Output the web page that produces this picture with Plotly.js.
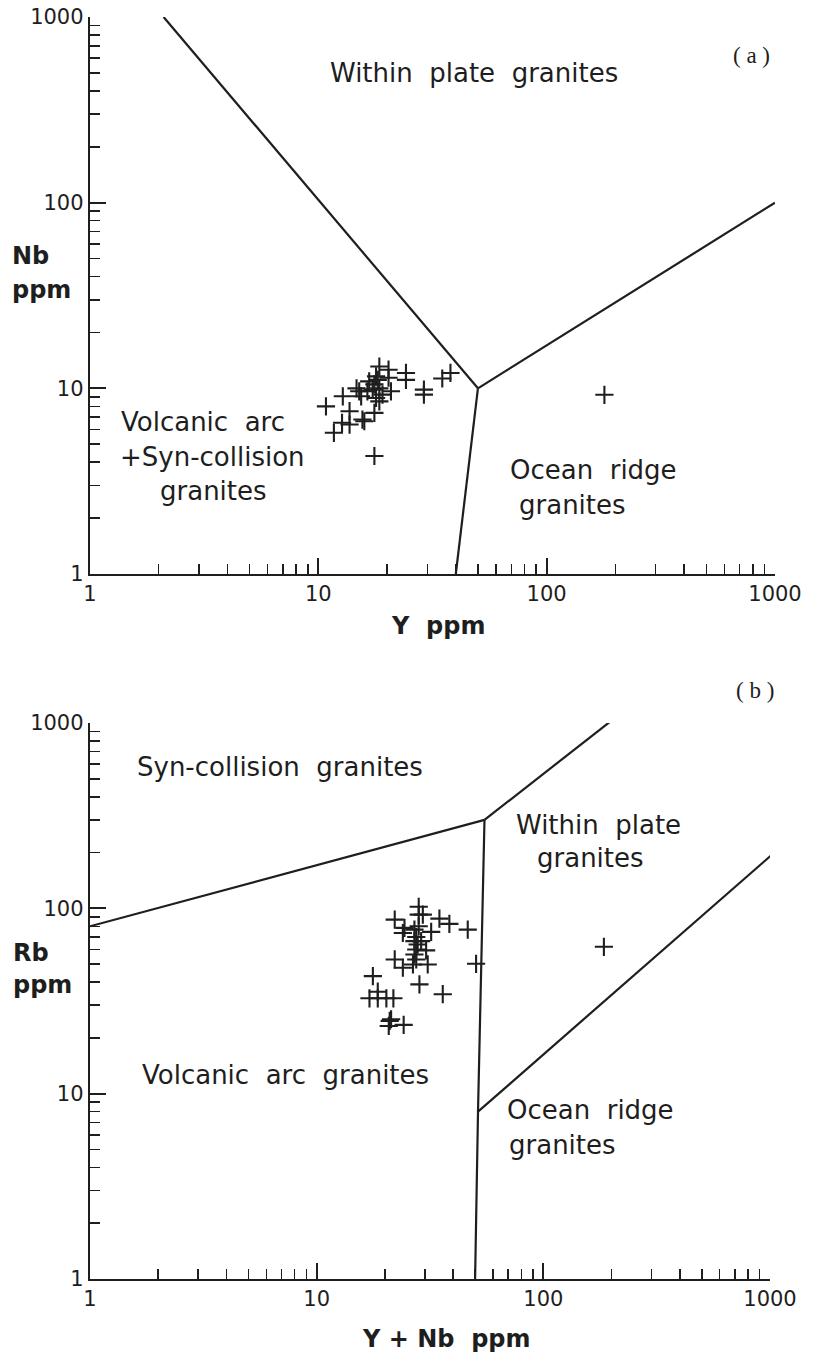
<!DOCTYPE html>
<html>
<head>
<meta charset="utf-8">
<script src="https://cdn.plot.ly/plotly-3.0.1.min.js"></script>
<style>html,body{margin:0;padding:0;background:#fff;}</style>
</head>
<body>
<div id="chart" style="width:814px;height:1355px;"></div>
<script>
// ---------- Panel (a): Nb vs Y ----------
const aY  = [10.8, 12.8, 11.7, 12.7, 13.7, 13.7, 14.7, 15.6, 15.9, 15.4, 15.1, 16.7, 17.6, 18.5, 17.6, 18.5, 17.9, 17.6, 18.5, 17.3, 18.2, 20.3, 20.3, 20.8, 19.1, 24.2, 24.2, 29.0, 29.0, 34.9, 37.9, 16.4, 17.9, 179];
const aNb = [8.0, 9.06, 5.76, 6.52, 6.38, 7.53, 10, 6.79, 6.65, 9.06, 9.64, 10.9, 7.38, 8.51, 4.32, 13.1, 11.6, 10.5, 10, 9.84, 11.1, 12.6, 11.4, 9.64, 9.25, 12.1, 11.1, 9.84, 9.25, 11.3, 12.1, 9.64, 8.87, 9.23];
// boundaries (a)
const aWpgVagX = [2.1, 50],  aWpgVagY = [1000, 10];
const aWpgOrgX = [50, 1000], aWpgOrgY = [10, 100];
const aOrgVagX = [50, 40],   aOrgVagY = [10, 1];

// ---------- Panel (b): Rb vs Y+Nb ----------
const bYNb = [28.2, 28.2, 29.4, 22.1, 34.8, 38.5, 46.4, 24.4, 24.0, 27.0, 32.0, 27.0, 27.9, 28.9, 27.5, 30.4, 27.0, 27.5, 22.1, 24.0, 26.6, 30.9, 50.5, 17.7, 28.4, 36.0, 18.6, 17.1, 18.6, 20.3, 21.8, 21.0, 20.8, 24.2, 21.3, 27.5, 28.2, 185];
const bRb  = [102, 92.5, 92.5, 86.9, 88.0, 82.4, 76.8, 78.4, 73.6, 76.8, 74.6, 66.5, 63.8, 66.5, 60, 59.3, 56.4, 53, 53, 47.8, 49.8, 49.8, 50.2, 43.1, 38.9, 34.4, 35.5, 32.7, 32.7, 32.7, 32.7, 24.7, 23.2, 23.5, 25.2, 70, 80, 62];
// boundaries (b)
const bSynVagX = [1, 55],        bSynVagY = [80, 300];
const bSynWpgX = [55, 400],      bSynWpgY = [300, 2000];
const bVagWpgX = [55, 51.5, 50], bVagWpgY = [300, 8, 1];
const bOrgWpgX = [51.5, 2000],   bOrgWpgY = [8, 400];

// tick labels
const majorTicks = [1, 10, 100, 1000];
const majorText  = ['1', '10', '100', '1000'];
const minorTicks = [];
[1, 10, 100].forEach(d => { for (let k = 2; k <= 9; k++) minorTicks.push(k * d); });

const INK = '#1e1e1e';
const FONT = 'DejaVu Sans, Noto Sans, sans-serif';
const W = 814, H = 1355;
const px = x => x / W, py = y => 1 - y / H;

function lineTrace(x, y, xa, ya) {
  return {x, y, xaxis: xa, yaxis: ya, mode: 'lines', type: 'scatter',
          line: {color: INK, width: 2.2}, hoverinfo: 'skip', showlegend: false};
}
function ptsTrace(x, y, xa, ya) {
  return {x, y, xaxis: xa, yaxis: ya, mode: 'markers', type: 'scatter', showlegend: false,
          marker: {symbol: 'cross-thin', size: 13, color: INK, line: {color: INK, width: 2.1}}};
}

const traces = [
  lineTrace(aWpgVagX, aWpgVagY, 'x', 'y'),
  lineTrace(aWpgOrgX, aWpgOrgY, 'x', 'y'),
  lineTrace(aOrgVagX, aOrgVagY, 'x', 'y'),
  ptsTrace(aY, aNb, 'x', 'y'),
  lineTrace(bSynVagX, bSynVagY, 'x2', 'y2'),
  lineTrace(bSynWpgX, bSynWpgY, 'x2', 'y2'),
  lineTrace(bVagWpgX, bVagWpgY, 'x2', 'y2'),
  lineTrace(bOrgWpgX, bOrgWpgY, 'x2', 'y2'),
  ptsTrace(bYNb, bRb, 'x2', 'y2')
];

function axis(domain, anchor) {
  return {
    type: 'log', range: [0, 3], domain, anchor,
    showline: true, linecolor: INK, linewidth: 2.2, mirror: false,
    ticks: 'inside', ticklen: 16, tickwidth: 1.8, tickcolor: INK,
    tickmode: 'array', tickvals: majorTicks, ticktext: majorText,
    tickfont: {family: FONT, size: 21, color: INK},
    showgrid: false, zeroline: false,
    minor: {tickmode: 'array', tickvals: minorTicks, ticks: 'inside', ticklen: 10,
            tickwidth: 1.5, tickcolor: INK, showgrid: false}
  };
}

const layout = {
  width: W, height: H,
  margin: {l: 0, r: 0, t: 0, b: 0},
  paper_bgcolor: '#fff', plot_bgcolor: '#fff',
  showlegend: false,
  xaxis:  axis([px(90), px(775)], 'y'),
  yaxis:  axis([py(574), py(17)], 'x'),
  xaxis2: axis([px(90), px(770)], 'y2'),
  yaxis2: axis([py(1279), py(723)], 'x2'),
  annotations: []
};

function label(text, x, y, opts = {}) {
  layout.annotations.push(Object.assign({
    text, x: px(x), y: py(y), xref: 'paper', yref: 'paper', showarrow: false,
    xanchor: 'center', yanchor: 'middle',
    font: {family: FONT, size: 26, color: INK}
  }, opts));
}
const boldL = {xanchor: 'left', font: {family: FONT, size: 24, color: INK, weight: 'bold'}};
const serif = {font: {family: 'Liberation Serif, Times New Roman, serif', size: 23, color: INK}};

// panel (a) texts
label('Within  plate  granites', 474, 73);
label('( a )', 751, 55, serif);
label('Volcanic  arc', 203, 422);
label('+Syn-collision', 212, 457);
label('granites', 213, 491);
label('Ocean  ridge', 593, 470);
label('granites', 572, 505);
label('Nb', 10, 256, boldL);
label('ppm', 10, 290, boldL);
label('Y  ppm', 389, 626, boldL);

// panel (b) texts
label('( b )', 755, 690, serif);
label('Syn-collision  granites', 280, 767);
label('Within  plate', 598, 825);
label('granites', 590, 858);
label('Volcanic  arc  granites', 285, 1075);
label('Ocean  ridge', 590, 1110);
label('granites', 562, 1145);
label('Rb', 11, 953, boldL);
label('ppm', 11, 985, boldL);
label('Y + Nb  ppm', 360, 1339, boldL);

Plotly.newPlot('chart', traces, layout, {displayModeBar: false, staticPlot: true});
</script>
</body>
</html>
